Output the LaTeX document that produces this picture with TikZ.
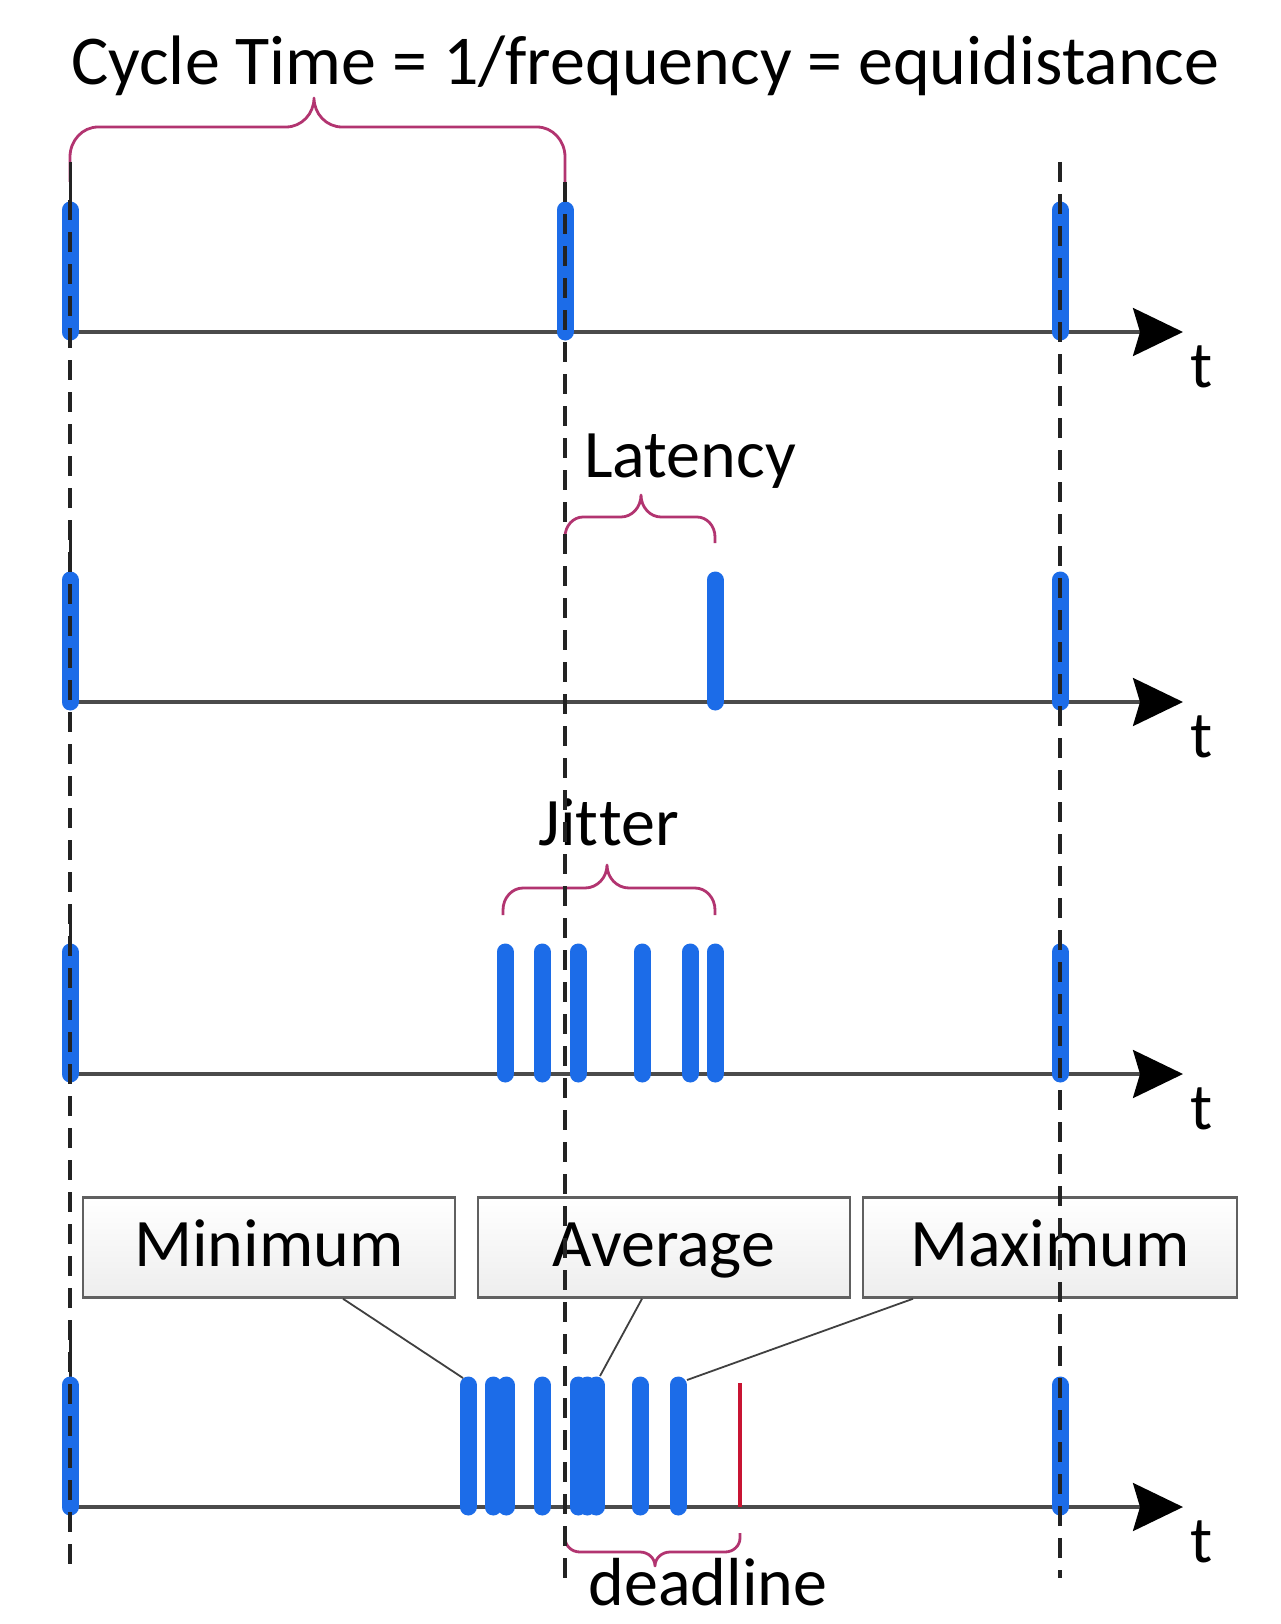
\documentclass[tikz,border=0pt]{standalone}
\usepackage{fontspec}
\setmainfont[Ligatures=NoCommon]{Carlito}
\usetikzlibrary{arrows.meta}
\definecolor{barblue}{RGB}{28,108,232}
\definecolor{bracecol}{RGB}{178,52,112}
\definecolor{axisgray}{RGB}{75,75,75}
\definecolor{dashgray}{RGB}{35,35,35}
\definecolor{deadred}{RGB}{200,20,50}
% #1 x1, #2 x2, #3 yend, #4 ybar, #5 ytip, #6 xtip, #7 rh, #8 rv, #9 r2
\newcommand\mybrace[9]{%
  \draw[bracestyle] (#1,#3) -- (#1,{#4+#8})
    .. controls (#1,{#4+0.448*#8}) and ({#1+0.448*#7},#4) .. ({#1+#7},#4)
    -- ({#6-#9},#4)
    .. controls ({#6-0.448*#9},#4) and (#6,{#5+0.552*(#4-#5)}) .. (#6,#5)
    .. controls (#6,{#5+0.552*(#4-#5)}) and ({#6+0.448*#9},#4) .. ({#6+#9},#4)
    -- ({#2-#7},#4)
    .. controls ({#2-0.448*#7},#4) and (#2,{#4+0.448*#8}) .. (#2,{#4+#8})
    -- (#2,#3);}
\tikzset{
  bracestyle/.style={draw=bracecol, line width=2.8pt, line join=round},
  axisline/.style={draw=axisgray, line width=3.2pt,
    -{Stealth[length=50pt, width=48pt, inset=7pt, black]}},
  pulse/.style={draw=barblue, line width=17pt, line cap=round},
  guide/.style={draw=dashgray, line width=3.2pt, dash pattern=on 20pt off 12pt},
  marker/.style={draw=dashgray, line width=3pt},
  lbl/.style={font=\fontsize{68}{80}\selectfont, inner sep=0pt, anchor=base},
  tlbl/.style={font=\fontsize{66}{78}\selectfont, inner sep=0pt, anchor=base},
  valbox/.style={draw=gray!75!black, line width=2.5pt, top color=white, bottom color=gray!14,
    minimum width=372pt, minimum height=100pt, inner sep=0pt, text height=50pt, text depth=13pt,
    font=\fontsize{68}{80}\selectfont},
  callout/.style={draw=black!75, line width=1.8pt},
  deadline/.style={draw=deadred, line width=3.5pt}
}
\begin{document}
\begin{tikzpicture}[x=1pt,y=-1pt]
\useasboundingbox (0,0) rectangle (1280,1624);
\fill[white] (0,0) rectangle (1280,1624);

% title
\node[anchor=base west, inner sep=0pt, font=\fontsize{70}{84}\selectfont] (title) at (71,85)
  {Cycle Time = 1/frequency = equidistance};

% braces
\mybrace{70}{565}{182}{127}{98}{314}{28}{30}{28}
\mybrace{565}{715}{543}{517}{495}{641}{18}{20}{20}
\mybrace{503}{715}{915}{888}{865}{607}{20}{22}{22}
\mybrace{565}{740}{1533}{1552}{1566}{655}{15}{-14}{15}

% labels
\node[lbl] (lat) at (690,477) {Latency};
\node[lbl] (jit) at (609,845) {Jit\kern1pt ter};
\node[lbl] (dl) at (708,1605) {deadline};

% boxes
\node[valbox] (minbox) at (269,1247.5) {Minimum};
\node[valbox] (avgbox) at (664,1247.5) {Average};
\node[valbox, minimum width=374pt] (maxbox) at (1050,1247.5) {Maximum};

% axes
\foreach \n/\y in {1/332,2/702,3/1074,4/1507}{
  \coordinate (s\n) at (70,\y);
  \coordinate (e\n) at (1183,\y);
  \draw[axisline] (s\n) -- (e\n);
  \node[tlbl] (t\n) at (1202,\y+55) {t};
  \draw[marker] (70,\y-170) -- (70,\y);
}

% pulses row 1
\foreach \x in {70,565,1060} \draw[pulse] (\x,332-122) -- (\x,332);
% row 2
\foreach \x in {70,715,1060} \draw[pulse] (\x,702-122) -- (\x,702);
% row 3
\foreach \x in {70,505,542,578,642,690,715,1060} \draw[pulse] (\x,1074-122) -- (\x,1074);
% row 4
\foreach \x in {70,468,493,506,542,578,587,596,640,678,1060} \draw[pulse] (\x,1507-122) -- (\x,1507);
\draw[deadline] (740,1383) -- (740,1507);

% callout endpoints
\coordinate (pmin) at (463,1378);
\coordinate (pavg) at (600,1376);
\coordinate (pmax) at (687,1380);
\draw[callout] ([xshift=74pt]minbox.south) -- (pmin);
\draw[callout] ([xshift=-22pt]avgbox.south) -- (pavg);
\draw[callout] ([xshift=-137pt]maxbox.south) -- (pmax);

% dashed guides
\coordinate (g1a) at (70,200);   \coordinate (g1b) at (70,1575);
\coordinate (g2a) at (565,182);  \coordinate (g2b) at (565,1580);
\coordinate (g3a) at (1060,162); \coordinate (g3b) at (1060,1578);
\draw[guide] (g1a) -- (g1b);
\draw[guide] (g2a) -- (g2b);
\draw[guide] (g3a) -- (g3b);
\end{tikzpicture}
\end{document}
